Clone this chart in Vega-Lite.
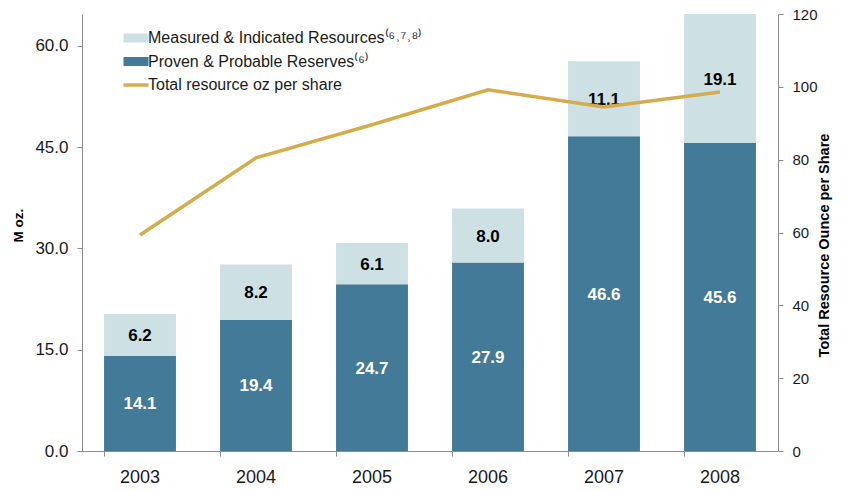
{
  "$schema": "https://vega.github.io/schema/vega-lite/v6.json",
  "width": 696,
  "height": 437,
  "autosize": {"type": "none"},
  "padding": {"left": 82, "top": 14, "right": 73, "bottom": 39},
  "background": "white",
  "config": {
    "view": {"stroke": null},
    "font": "Liberation Sans",
    "axis": {"grid": false, "domainColor": "#8c8c8c", "tickColor": "#8c8c8c", "labelColor": "#1a1a1a", "labelFont": "Liberation Sans", "titleFont": "Liberation Sans", "titleColor": "#000"}
  },
  "datasets": {
    "bars": [
      {"year": "2003", "segment": "Proven & Probable Reserves", "value": 14.1, "ord": 1},
      {"year": "2003", "segment": "Measured & Indicated Resources", "value": 6.2, "ord": 2},
      {"year": "2004", "segment": "Proven & Probable Reserves", "value": 19.4, "ord": 1},
      {"year": "2004", "segment": "Measured & Indicated Resources", "value": 8.2, "ord": 2},
      {"year": "2005", "segment": "Proven & Probable Reserves", "value": 24.7, "ord": 1},
      {"year": "2005", "segment": "Measured & Indicated Resources", "value": 6.1, "ord": 2},
      {"year": "2006", "segment": "Proven & Probable Reserves", "value": 27.9, "ord": 1},
      {"year": "2006", "segment": "Measured & Indicated Resources", "value": 8.0, "ord": 2},
      {"year": "2007", "segment": "Proven & Probable Reserves", "value": 46.6, "ord": 1},
      {"year": "2007", "segment": "Measured & Indicated Resources", "value": 11.1, "ord": 2},
      {"year": "2008", "segment": "Proven & Probable Reserves", "value": 45.6, "ord": 1},
      {"year": "2008", "segment": "Measured & Indicated Resources", "value": 19.1, "ord": 2}
    ],
    "line": [
      {"year": "2003", "oz": 59.3},
      {"year": "2004", "oz": 80.5},
      {"year": "2005", "oz": 89.6},
      {"year": "2006", "oz": 99.2},
      {"year": "2007", "oz": 94.5},
      {"year": "2008", "oz": 98.6}
    ]
  },
  "encoding": {
    "x": {
      "field": "year", "type": "nominal", "title": null,
      "scale": {"paddingInner": 0.38, "paddingOuter": 0.19},
      "axis": {"labelAngle": 0, "labelFontSize": 18, "labelPadding": 12, "tickSize": 5, "bandPosition": 0, "domainWidth": 1}
    }
  },
  "layer": [
    {
      "layer": [
        {
          "data": {"name": "bars"},
          "mark": {"type": "bar"},
          "encoding": {
            "y": {"field": "value", "type": "quantitative", "stack": "zero",
              "scale": {"domain": [0, 64.7], "nice": false},
              "axis": {"values": [0, 15, 30, 45, 60], "format": ".1f", "title": "M oz.", "titleFontSize": 13.5, "titleFontWeight": "bold", "titlePadding": 9, "titleY": 211, "labelFontSize": 17, "labelPadding": 9, "tickSize": 5}},
            "color": {"field": "segment", "type": "nominal",
              "scale": {"domain": ["Measured & Indicated Resources", "Proven & Probable Reserves", "Total resource oz per share"], "range": ["#cde0e4", "#427a97", "#d4ac4c"]},
              "legend": {
                "title": null, "orient": "none", "legendX": 46, "legendY": 16,
                "labelFontSize": 16, "labelColor": "#1a1a1a", "labelFont": "Liberation Sans", "labelLimit": 0,
                "rowPadding": 7.5, "labelOffset": 4, "symbolSize": 625,
                "labelExpr": "datum.label === 'Measured & Indicated Resources' ? 'Measured & Indicated Resources⁽⁶˒⁷˒⁸⁾' : datum.label === 'Proven & Probable Reserves' ? 'Proven & Probable Reserves⁽⁶⁾' : datum.label",
                "encode": {
                  "symbols": {"update": {
                    "shape": {"signal": "datum.value === 'Total resource oz per share' ? 'stroke' : 'M-1,-0.36H1V0.36H-1Z'"},
                    "size": {"value": 625},
                    "fill": {"signal": "datum.value === 'Total resource oz per share' ? 'transparent' : scale('color', datum.value)"},
                    "stroke": {"signal": "scale('color', datum.value)"},
                    "strokeWidth": {"signal": "datum.value === 'Total resource oz per share' ? 3.5 : 0"},
                    "opacity": {"value": 1}
                  }}
                }
              }},
            "order": {"field": "ord", "type": "quantitative"}
          }
        },
        {
          "data": {"name": "bars"},
          "transform": [
            {"stack": "value", "groupby": ["year"], "sort": [{"field": "ord"}], "as": ["v0", "v1"]},
            {"calculate": "(datum.v0 + datum.v1) / 2", "as": "mid"}
          ],
          "mark": {"type": "text", "fontSize": 17, "fontWeight": "bold", "baseline": "middle", "dy": 1},
          "encoding": {
            "y": {"field": "mid", "type": "quantitative"},
            "text": {"field": "value", "type": "quantitative", "format": ".1f"},
            "color": {"condition": {"test": "datum.ord === 1", "value": "white"}, "value": "black"}
          }
        }
      ]
    },
    {
      "data": {"name": "line"},
      "mark": {"type": "line", "strokeWidth": 3.5, "color": "#d4ac4c"},
      "encoding": {
        "y": {"field": "oz", "type": "quantitative",
          "scale": {"domain": [0, 120], "nice": false},
          "axis": {"orient": "right", "values": [0, 20, 40, 60, 80, 100, 120], "title": "Total Resource Ounce per Share", "titleAngle": -90, "titleFontSize": 14.5, "titleFontWeight": "bold", "titlePadding": 14, "titleY": 231, "labelFontSize": 15, "labelPadding": 9, "tickSize": 5}},
        "color": {"datum": "Total resource oz per share"}
      }
    }
  ],
  "resolve": {"scale": {"y": "independent", "color": "shared"}}
}
